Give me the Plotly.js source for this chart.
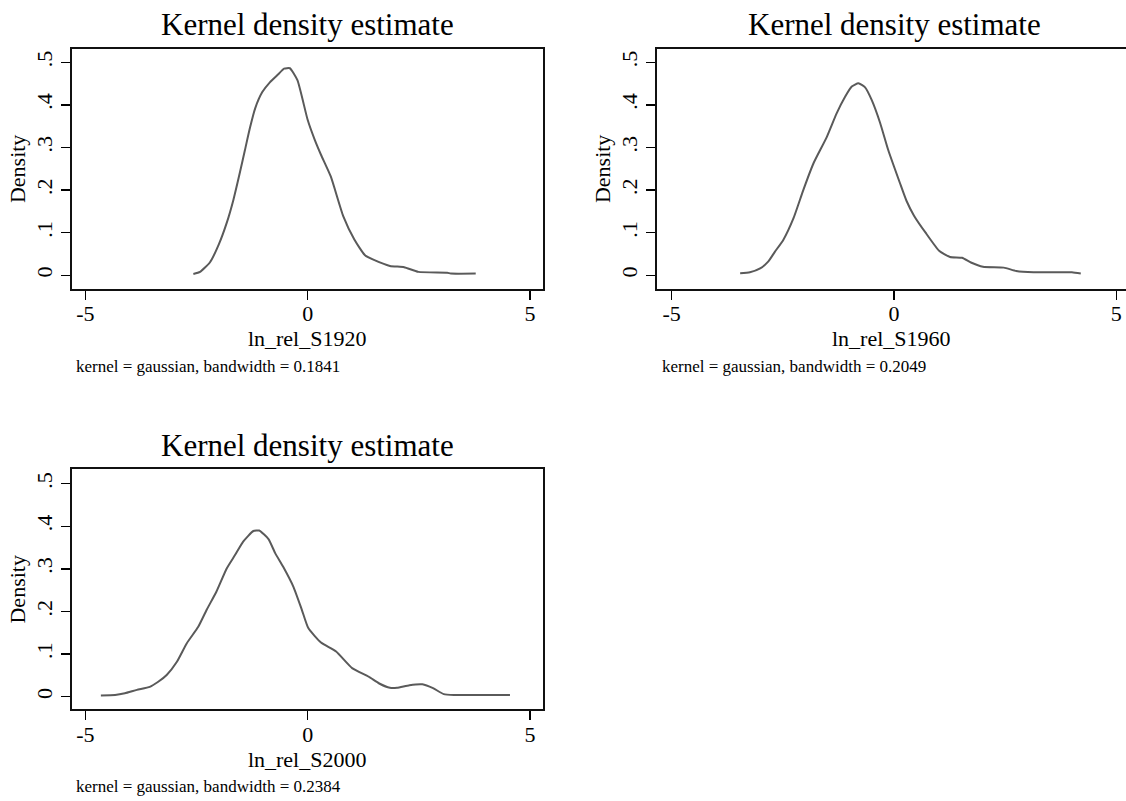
<!DOCTYPE html>
<html>
<head>
<meta charset="utf-8">
<script src="https://cdn.plot.ly/plotly-3.0.1.min.js"></script>
<style>
  html, body { margin: 0; padding: 0; background: #ffffff; }
  #chart { width: 1126px; height: 801px; }
</style>
</head>
<body>
<div id="chart"></div>
<script>
// ---- data ----
const panelTitle = "Kernel density estimate";
const xTickVals = [-5, 0, 5];
const xTickText = ["-5", "0", "5"];
const yTickVals = [0, 0.1, 0.2, 0.3, 0.4, 0.5];
const yTickText = ["0", ".1", ".2", ".3", ".4", ".5"];
const yAxisTitle = "Density";

const varNames = ["ln_rel_S1920", "ln_rel_S1960", "ln_rel_S2000"];
const notes = [
  "kernel = gaussian, bandwidth = 0.1841",
  "kernel = gaussian, bandwidth = 0.2049",
  "kernel = gaussian, bandwidth = 0.2384"
];

const x1920 = [-2.57, -2.42, -2.2, -2.0, -1.82, -1.67, -1.52, -1.41, -1.3, -1.18, -1.02, -0.85, -0.66, -0.53, -0.4, -0.23, 0.0, 0.16, 0.3, 0.52, 0.8, 1.05, 1.29, 1.49, 1.85, 2.17, 2.49, 3.14, 3.22, 3.78];
const y1920 = [0.003, 0.008, 0.03, 0.072, 0.123, 0.177, 0.243, 0.294, 0.345, 0.392, 0.43, 0.453, 0.472, 0.485, 0.486, 0.458, 0.365, 0.318, 0.283, 0.232, 0.139, 0.084, 0.047, 0.036, 0.022, 0.019, 0.008, 0.006, 0.004, 0.004];

const x1960 = [-3.46, -3.24, -3.01, -2.83, -2.68, -2.49, -2.26, -2.04, -1.81, -1.51, -1.29, -1.10, -0.95, -0.80, -0.65, -0.50, -0.31, -0.13, 0.135, 0.28, 0.45, 0.71, 1.02, 1.26, 1.53, 1.73, 2.0, 2.47, 2.75, 3.14, 4.0, 4.2];
const y1960 = [0.005, 0.007, 0.016, 0.032, 0.055, 0.083, 0.134, 0.2, 0.263, 0.325, 0.38, 0.419, 0.443, 0.451, 0.441, 0.411, 0.357, 0.294, 0.216, 0.175, 0.14, 0.1, 0.057, 0.043, 0.041, 0.03, 0.02, 0.018, 0.01, 0.007, 0.007, 0.004];

const x2000 = [-4.65, -4.33, -4.11, -3.84, -3.55, -3.36, -3.17, -2.94, -2.72, -2.46, -2.27, -2.05, -1.82, -1.63, -1.45, -1.22, -1.09, -0.88, -0.73, -0.55, -0.32, -0.13, 0.015, 0.3, 0.64, 1.0, 1.37, 1.61, 1.85, 2.01, 2.29, 2.58, 2.82, 3.06, 3.3, 4.55];
const y2000 = [0.003, 0.004, 0.008, 0.016, 0.023, 0.035, 0.051, 0.082, 0.125, 0.164, 0.204, 0.247, 0.301, 0.333, 0.364, 0.389, 0.39, 0.37, 0.337, 0.305, 0.258, 0.204, 0.161, 0.127, 0.106, 0.067, 0.047, 0.031, 0.021, 0.021, 0.027, 0.029, 0.02, 0.006, 0.004, 0.004];

// ---- styling ----
const W = 1126, H = 801;
const serif = "Liberation Serif, Times New Roman, serif";
const lineColor = "#5a5a5a";

function trace(x, y, xa, ya) {
  return {
    x: x, y: y, xaxis: xa, yaxis: ya, type: "scatter", mode: "lines",
    line: { color: lineColor, width: 2, shape: "spline", smoothing: 0.5 },
    hoverinfo: "x+y", showlegend: false
  };
}

const data = [
  trace(x1920, y1920, "x", "y"),
  trace(x1960, y1960, "x2", "y2"),
  trace(x2000, y2000, "x3", "y3")
];

function xAxis(domain, range, titleText, anchor) {
  return {
    domain: domain, range: range, anchor: anchor,
    tickmode: "array", tickvals: xTickVals, ticktext: xTickText,
    ticks: "outside", ticklen: 9, tickwidth: 1.5, tickcolor: "#000",
    ticklabelstandoff: -5,
    showline: true, linecolor: "#111", linewidth: 2, mirror: true,
    showgrid: false, zeroline: false,
    tickfont: { family: serif, size: 22, color: "#000" },
    title: { text: titleText, font: { family: serif, size: 22, color: "#000" }, standoff: 2 },
    automargin: false, fixedrange: true
  };
}
function yAxis(domain, range, anchor, mirror) {
  return {
    domain: domain, range: range, anchor: anchor,
    tickmode: "array", tickvals: yTickVals, ticktext: yTickText,
    ticks: "outside", ticklen: 9, tickwidth: 1.5, tickcolor: "#000",
    tickangle: -90,
    showline: true, linecolor: "#111", linewidth: 2, mirror: mirror,
    showgrid: false, zeroline: false,
    tickfont: { family: serif, size: 22, color: "#000" },
    title: { text: yAxisTitle, font: { family: serif, size: 22, color: "#000" }, standoff: 0 },
    automargin: false, fixedrange: true
  };
}

const dx1 = [71.7 / W, 542.7 / W];
const dx2 = [656.5 / W, 1];
const dyTop = [(H - 289) / H, (H - 48.7) / H];
const dyBot = [(H - 709.3) / H, (H - 469.3) / H];

function titleAnn(xref, ypx) {
  return {
    text: panelTitle, xref: xref, x: 0, yref: "paper", y: (H - ypx) / H,
    xanchor: "center", yanchor: "middle", showarrow: false,
    font: { family: serif, size: 31, color: "#000" }
  };
}
function noteAnn(text, xpx, ypx) {
  return {
    text: text, xref: "paper", x: xpx / W, yref: "paper", y: (H - ypx) / H,
    xanchor: "left", yanchor: "middle", showarrow: false,
    font: { family: serif, size: 17, color: "#000" }
  };
}

const layout = {
  width: W, height: H,
  margin: { l: 0, r: 0, t: 0, b: 0, pad: 0 },
  paper_bgcolor: "#ffffff", plot_bgcolor: "#ffffff",
  showlegend: false,
  xaxis: xAxis(dx1, [-5.306, 5.286], varNames[0], "y"),
  yaxis: yAxis(dyTop, [-0.0322, 0.5319], "x", true),
  xaxis2: xAxis(dx2, [-5.341, 5.217], varNames[1], "y2"),
  yaxis2: yAxis(dyTop, [-0.0322, 0.5319], "x2", false),
  xaxis3: xAxis(dx1, [-5.306, 5.286], varNames[2], "y3"),
  yaxis3: yAxis(dyBot, [-0.0296, 0.5338], "x3", true),
  annotations: [
    titleAnn("x", 25),
    titleAnn("x2", 25),
    titleAnn("x3", 445.6),
    noteAnn(notes[0], 73.9, 366),
    noteAnn(notes[1], 660, 366),
    noteAnn(notes[2], 73.9, 786.6)
  ]
};

Plotly.newPlot("chart", data, layout, { displayModeBar: false, staticPlot: true });
</script>
</body>
</html>
